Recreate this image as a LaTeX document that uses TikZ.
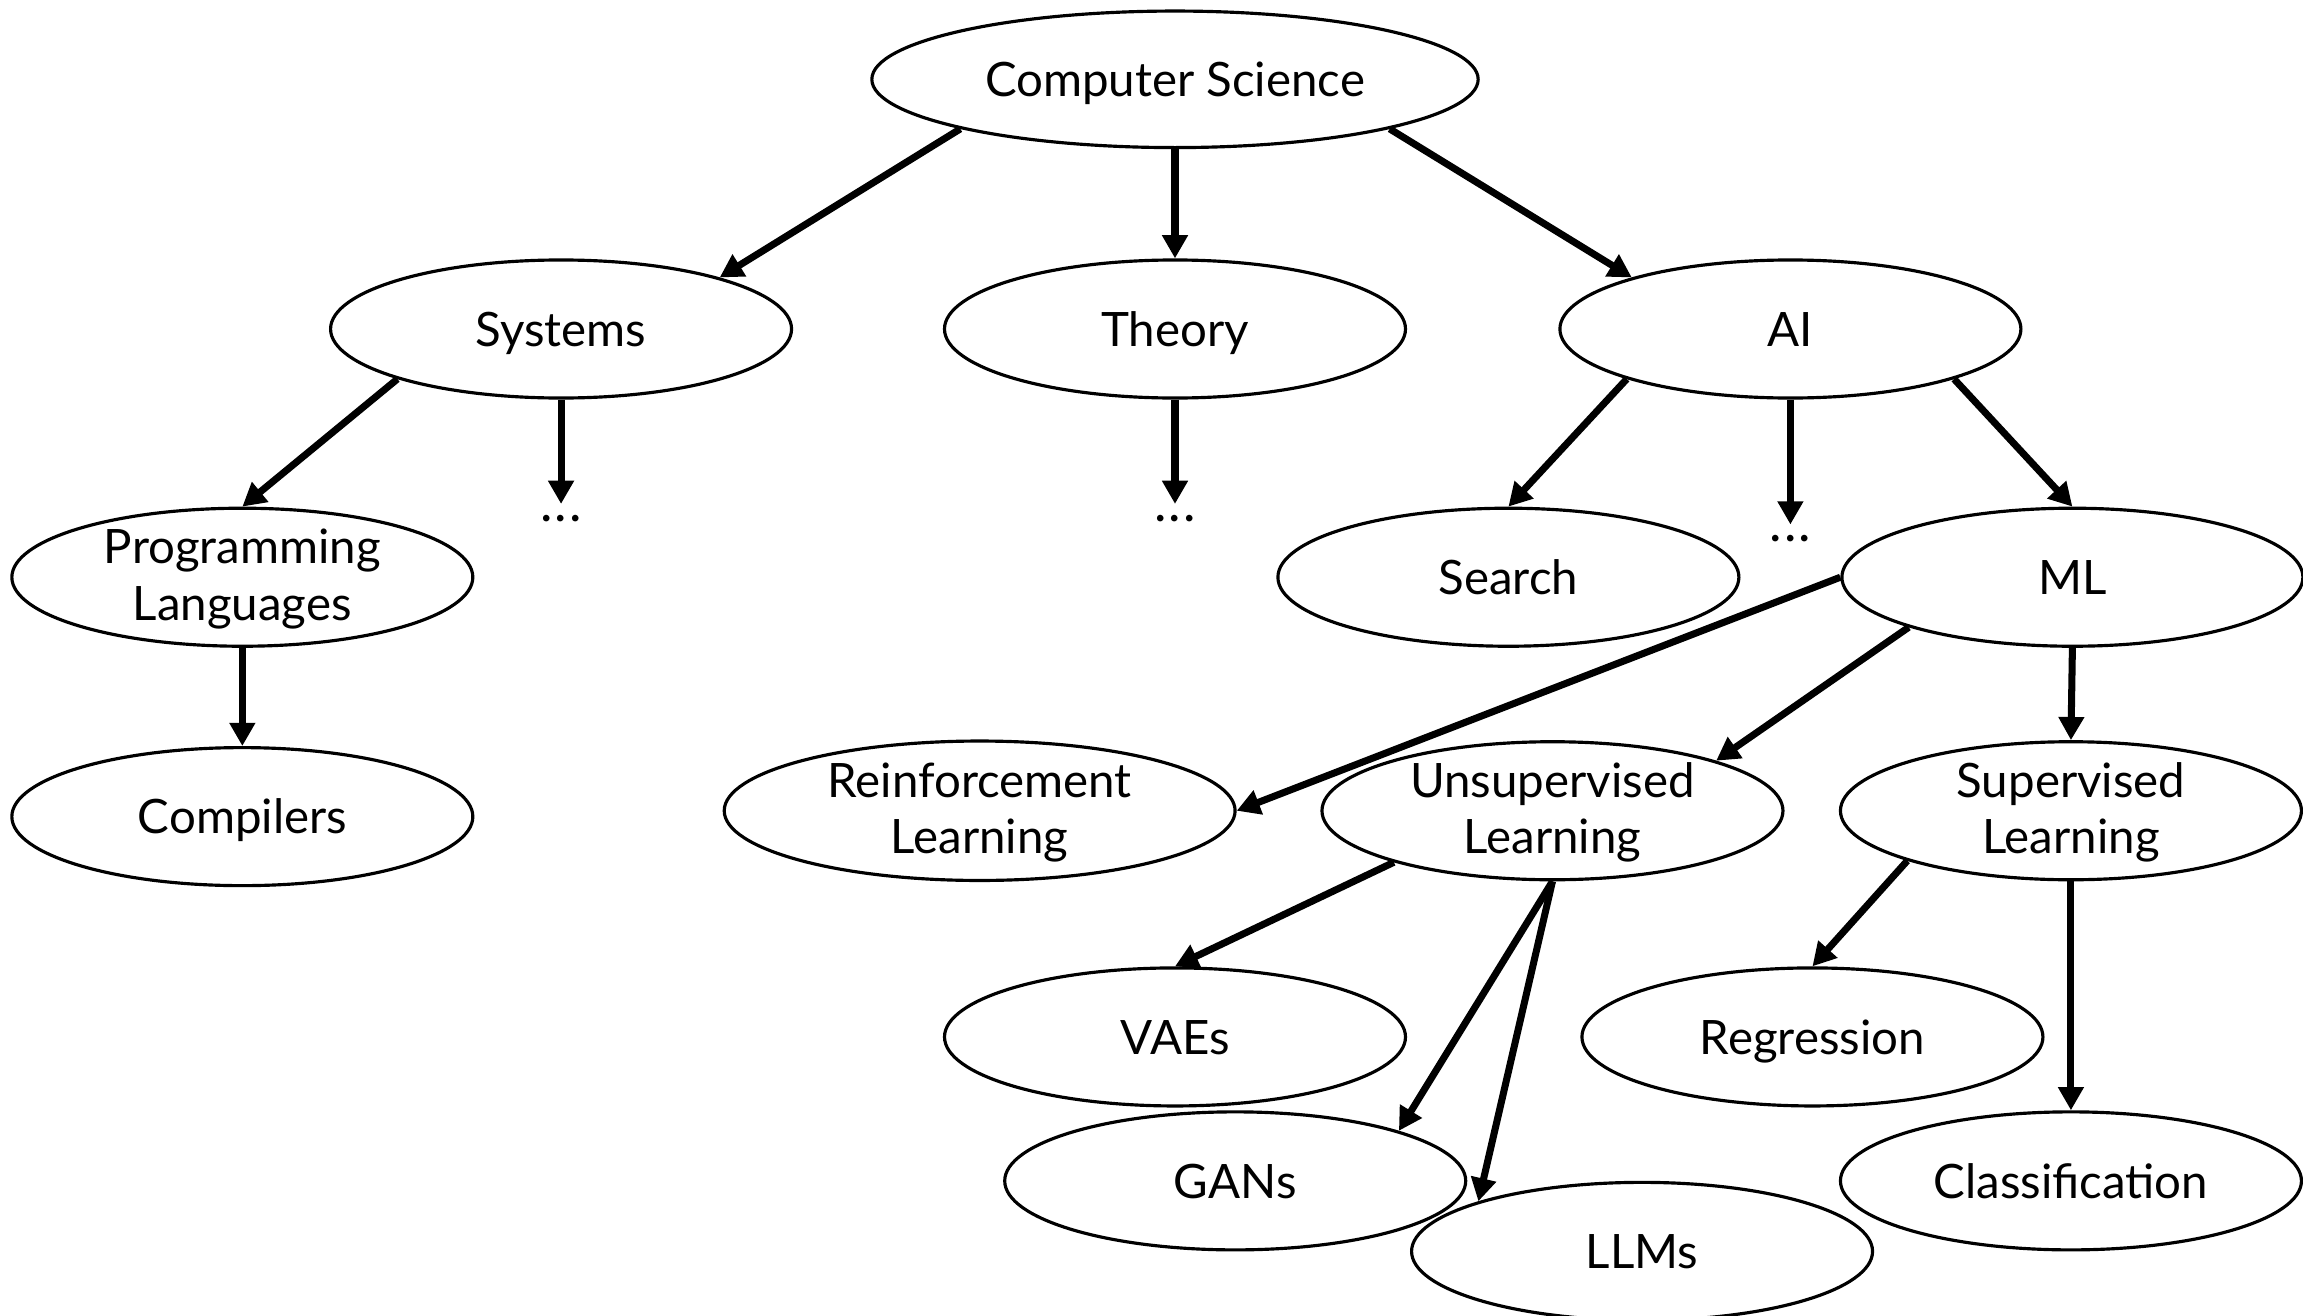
\documentclass[tikz,border=0pt]{standalone}
\usepackage{fontspec}
\setmainfont{Lato}
\usetikzlibrary{arrows.meta,shapes.geometric}
% two-line label, baseline on its first line
\newcommand{\stacked}[2]{\begin{tabular}[t]{@{}c@{}}#1\\#2\end{tabular}}
\begin{document}
\begin{tikzpicture}[x=0.014688cm,y=-0.014688cm,
  labelfont/.style={font=\fontsize{13.5}{16}\selectfont},
  topic/.style={draw,line width=0.9pt,ellipse,inner sep=0pt,
    minimum width=4.612cm,minimum height=1.381cm,labelfont,
    text height=13.2pt,text depth=3.4pt},
  pair/.style={text height=9.8pt,text depth=17.4pt},
  rootsize/.style={minimum width=6.066cm,minimum height=1.366cm},
  widesize/.style={minimum width=5.111cm,minimum height=1.395cm},
  link/.style={line width=2pt,-{Triangle[length=6.6pt,width=7pt]}},
  more/.style={inner xsep=0pt,inner ysep=3pt,font=\fontsize{15}{16}\selectfont}]
\useasboundingbox (0,0) rectangle (1568,896);

% topics
\node[topic,rootsize] (cs) at (800,54) {Computer Science};
\node[topic] (sys) at (382,224) {Systems};
\node[topic] (theory) at (800,224) {Theory};
\node[topic] (ai) at (1219,224) {AI};
\node[topic,pair] (pl) at (165,393) {\stacked{Programming}{Languages}};
\node[topic] (search) at (1027,393) {Search};
\node[topic] (ml) at (1411,393) {ML};
\node[topic] (comp) at (165,556) {Compilers};
\node[topic,pair,widesize] (rl) at (667,552) {\stacked{Reinforcement}{Learning}};
\node[topic,pair] (unsup) at (1057,552) {\stacked{Unsupervised}{Learning}};
\node[topic,pair] (sup) at (1410,552) {\stacked{Supervised}{Learning}};
\node[topic] (vae) at (800,706) {VAEs};
\node[topic] (reg) at (1234,706) {Regression};
\node[topic] (gan) at (841,804) {GANs};
\node[topic] (cls) at (1410,804) {Classification};
\node[topic] (llm) at (1118,852) {LLMs};

% elided subtopics
\node[more] (sysmore) at (382,353) {.\kern0.6pt.\kern0.6pt.};
\node[more] (theorymore) at (800,353) {.\kern0.6pt.\kern0.6pt.};
\node[more] (aimore) at (1219,367) {.\kern0.6pt.\kern0.6pt.};

% hierarchy
\draw[link] (cs.193) -- (sys.18);
\draw[link] (cs.south) -- (theory.north);
\draw[link] (cs.347) -- (ai.162);
\draw[link] (sys.197) -- (pl.north);
\draw[link] (sys.south) -- (sysmore.north);
\draw[link] (theory.south) -- (theorymore.north);
\draw[link] (ai.197) -- (search.north);
\draw[link] (ai.south) -- (aimore.north);
\draw[link] (ai.343) -- (ml.north);
\draw[link] (pl.south) -- (comp.north);
\draw[link] (ml.west) -- (rl.east);
\draw[link] (ml.197) -- (unsup.17);
\draw[link] (ml.south) -- (sup.north);
\draw[link] (unsup.198) -- (vae.north);
\draw[link] (unsup.south) -- (gan.17);
\draw[link] (unsup.south) -- (llm.163);
\draw[link] (sup.197) -- (reg.north);
\draw[link] (sup.south) -- (cls.north);
\end{tikzpicture}
\end{document}
